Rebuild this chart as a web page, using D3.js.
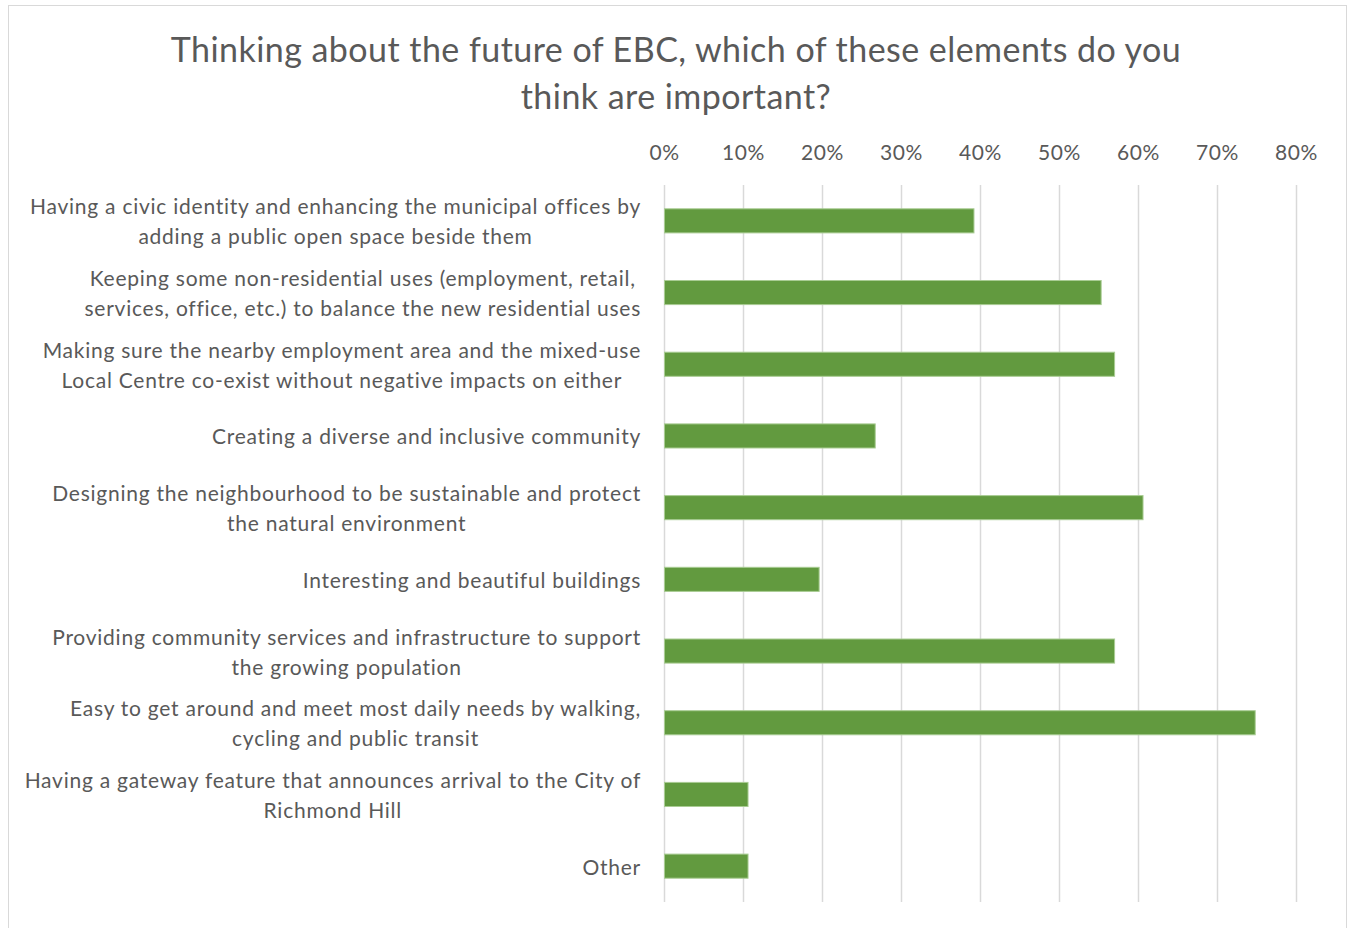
<!DOCTYPE html>
<html>
<head>
<meta charset="utf-8">
<script src="https://cdn.jsdelivr.net/npm/d3@7"></script>
<style>
  html, body { margin: 0; padding: 0; background: #fff; }
  svg { display: block; }
  text { font-family: "Lato", "Open Sans", sans-serif; fill: #595959; }
</style>
</head>
<body>
<svg id="chart" width="1349" height="928"></svg>
<script>
// Survey responses: share of respondents choosing each element
const categories = [
  ["Having a civic identity and enhancing the municipal offices by", "adding a public open space beside them"],
  ["Keeping some non-residential uses (employment, retail,", "services, office, etc.) to balance the new residential uses"],
  ["Making sure the nearby employment area and the mixed-use", "Local Centre co-exist without negative impacts on either"],
  ["Creating a diverse and inclusive community"],
  ["Designing the neighbourhood to be sustainable and protect", "the natural environment"],
  ["Interesting and beautiful buildings"],
  ["Providing community services and infrastructure to support", "the growing population"],
  ["Easy to get around and meet most daily needs by walking,", "cycling and public transit"],
  ["Having a gateway feature that announces arrival to the City of", "Richmond Hill"],
  ["Other"]
];
const values = [0.393, 0.554, 0.571, 0.268, 0.607, 0.197, 0.571, 0.749, 0.107, 0.107];
const tickValues = [0, 0.1, 0.2, 0.3, 0.4, 0.5, 0.6, 0.7, 0.8];
const titleLines = ["Thinking about the future of EBC, which of these elements do you", "think are important?"];

const svg = d3.select("#chart");
const W = 1349, H = 928;
const margin = { top: 185, right: 53, bottom: 26, left: 664 };

// outer chart frame
svg.append("rect")
  .attr("x", 8.5).attr("y", 5.5)
  .attr("width", 1338).attr("height", 940)
  .attr("fill", "#fff").attr("stroke", "#d9d9d9").attr("stroke-width", 1);

// title
svg.append("g").selectAll("text").data(titleLines).join("text")
  .attr("x", 676)
  .attr("y", (d, i) => 62 + i * 47)
  .attr("text-anchor", "middle")
  .attr("font-size", 34)
  .attr("letter-spacing", 0.45)
  .text(d => d);

const x = d3.scaleLinear().domain([0, 0.8]).range([margin.left, W - margin.right]);
const y = d3.scaleBand()
  .domain(d3.range(categories.length))
  .range([margin.top, H - margin.bottom])
  .paddingInner(0.65).paddingOuter(0.325);

// vertical gridlines
svg.append("g").selectAll("line").data(tickValues).join("line")
  .attr("x1", d => Math.round(x(d)) + 0.5).attr("x2", d => Math.round(x(d)) + 0.5)
  .attr("y1", margin.top).attr("y2", H - margin.bottom)
  .attr("stroke", "#d9d9d9").attr("stroke-width", 1.5);

// top axis labels
const xAxis = d3.axisTop(x).tickValues(tickValues).tickFormat(d3.format(".0%")).tickSize(0);
const gx = svg.append("g").attr("transform", `translate(0,${margin.top - 22})`).call(xAxis);
gx.select(".domain").remove();
gx.selectAll("text").attr("font-size", 21).attr("fill", "#595959")
  .attr("letter-spacing", 0.6)
  .style("font-family", "Lato, 'Open Sans', sans-serif");

// bars, with a faint light-green edge
svg.append("g").selectAll("rect").data(values).join("rect")
  .attr("x", x(0) + 0.5)
  .attr("y", (d, i) => y(i) + 0.5)
  .attr("width", d => x(d) - x(0) - 1)
  .attr("height", y.bandwidth() - 1)
  .attr("fill", "#629a3f")
  .attr("stroke", "#a9cc93").attr("stroke-width", 1);

// category labels: each block right-aligned at the axis, lines centred within the block
const labelRight = margin.left - 23;
const lineH = 30;
const lg = svg.append("g");
categories.forEach((lines, i) => {
  const cy = y(i) + y.bandwidth() / 2;
  const texts = lines.map((s, j) => lg.append("text")
    .attr("font-size", 21)
    .attr("letter-spacing", 0.75)
    .attr("dominant-baseline", "central")
    .attr("y", cy + (j - (lines.length - 1) / 2) * lineH)
    .text(s));
  const wMax = d3.max(texts, t => t.node().getComputedTextLength());
  texts.forEach(t => t.attr("text-anchor", "middle").attr("x", labelRight - wMax / 2));
});
</script>
</body>
</html>
